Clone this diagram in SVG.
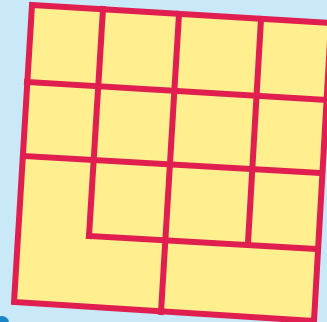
<svg xmlns="http://www.w3.org/2000/svg" width="327" height="322" viewBox="0 0 327 322">
  <style>
    .grid { stroke: #E01E50; stroke-width: 6; stroke-linecap: square; stroke-linejoin: miter; fill: none; }
  </style>
  <rect x="0" y="0" width="327" height="322" fill="#C9E9F8"/>
  <g id="square">
    <polygon points="32,5 331,23 314,321 14,302" fill="#FFEF8E"/>
    <g id="grid-lines" class="grid">
      <line x1="103" y1="9" x2="89" y2="236"/>
      <line x1="179" y1="14" x2="161" y2="312"/>
      <line x1="261" y1="19" x2="248" y2="243"/>
      <line x1="27" y1="82" x2="326" y2="100"/>
      <line x1="23" y1="156" x2="322" y2="173"/>
      <line x1="89" y1="236" x2="318" y2="249"/>
    </g>
    <polygon class="grid" points="32,5 331,23 314,321 14,302"/>
  </g>
  <circle id="dot" cx="2" cy="323" r="7" fill="#1B86C6"/>
</svg>
